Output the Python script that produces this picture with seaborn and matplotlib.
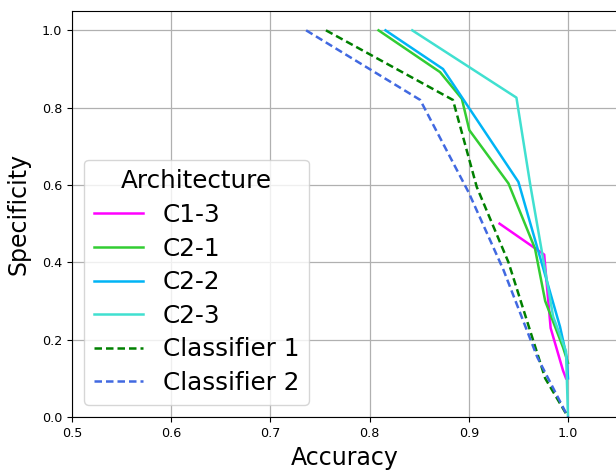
import matplotlib
matplotlib.use("Agg")
import matplotlib.pyplot as plt
import seaborn as sns
import pandas as pd

# Data (Accuracy, Specificity)
c13_acc = [0.931, 0.976, 0.9825, 0.995, 0.998]
c13_spec = [0.50, 0.42, 0.23, 0.12, 0.10]

c21_acc = [0.809, 0.871, 0.893, 0.9005, 0.940, 0.9667, 0.977, 0.995, 1.0]
c21_spec = [1.0, 0.892, 0.823, 0.742, 0.604, 0.436, 0.30, 0.18, 0.14]

c22_acc = [0.816, 0.874, 0.950, 0.992, 0.9986, 1.0]
c22_spec = [1.0, 0.90, 0.608, 0.233, 0.156, 0.10]

c23_acc = [0.843, 0.948, 0.962, 0.985, 0.998, 1.0]
c23_spec = [1.0, 0.826, 0.60, 0.26, 0.17, 0.0]

cl1_acc = [0.756, 0.884, 0.908, 0.94, 0.977, 1.0]
cl1_spec = [1.0, 0.82, 0.595, 0.40, 0.10, 0.0]

cl2_acc = [0.736, 0.851, 0.9, 0.935, 0.969, 1.0]
cl2_spec = [1.0, 0.82, 0.58, 0.38, 0.155, 0.0]

names = ["C1-3", "C2-1", "C2-2", "C2-3", "Classifier 1", "Classifier 2"]
accs = [c13_acc, c21_acc, c22_acc, c23_acc, cl1_acc, cl2_acc]
specs = [c13_spec, c21_spec, c22_spec, c23_spec, cl1_spec, cl2_spec]

rows = []
for n, a, s in zip(names, accs, specs):
    for i, (x, y) in enumerate(zip(a, s)):
        rows.append({"Architecture": n, "Accuracy": x, "Specificity": y, "order": i})
df = pd.DataFrame(rows)

palette = {
    "C1-3": "#ff00ff",
    "C2-1": "#32cd32",
    "C2-2": "#00b4f5",
    "C2-3": "#40e0d0",
    "Classifier 1": "#008000",
    "Classifier 2": "#4169e1",
}
dashes = {
    "C1-3": "",
    "C2-1": "",
    "C2-2": "",
    "C2-3": "",
    "Classifier 1": (3.0, 1.6),
    "Classifier 2": (3.0, 1.6),
}

plt.rcParams["font.family"] = ["DejaVu Sans"]
fig = plt.figure(figsize=(6.16, 4.70), dpi=100)
ax = fig.add_axes([72 / 616, 1 - 417 / 470, 545.6 / 616, 406 / 470])

sns.lineplot(
    data=df, x="Accuracy", y="Specificity", hue="Architecture",
    style="Architecture", palette=palette, dashes=dashes,
    hue_order=names, style_order=names, sort=False, estimator=None,
    linewidth=1.8, ax=ax,
)

ax.set_xlim(0.5, 1.05)
ax.set_ylim(0.0, 1.05)
ax.set_xticks([0.5, 0.6, 0.7, 0.8, 0.9, 1.0])
ax.set_yticks([0.0, 0.2, 0.4, 0.6, 0.8, 1.0])
ax.tick_params(labelsize=9.2)
ax.grid(True, color="#b0b0b0", linewidth=0.9)
ax.set_axisbelow(True)
ax.set_xlabel("Accuracy", fontsize=17, labelpad=4.5)
ax.set_ylabel("Specificity", fontsize=17, labelpad=8)

sns.move_legend(
    ax, loc="lower left",
    title="Architecture", fontsize=17.7, title_fontsize=17.7,
    labelspacing=0.39, handlelength=2.0, frameon=True,
)

fig.savefig("out.png", dpi=100)
